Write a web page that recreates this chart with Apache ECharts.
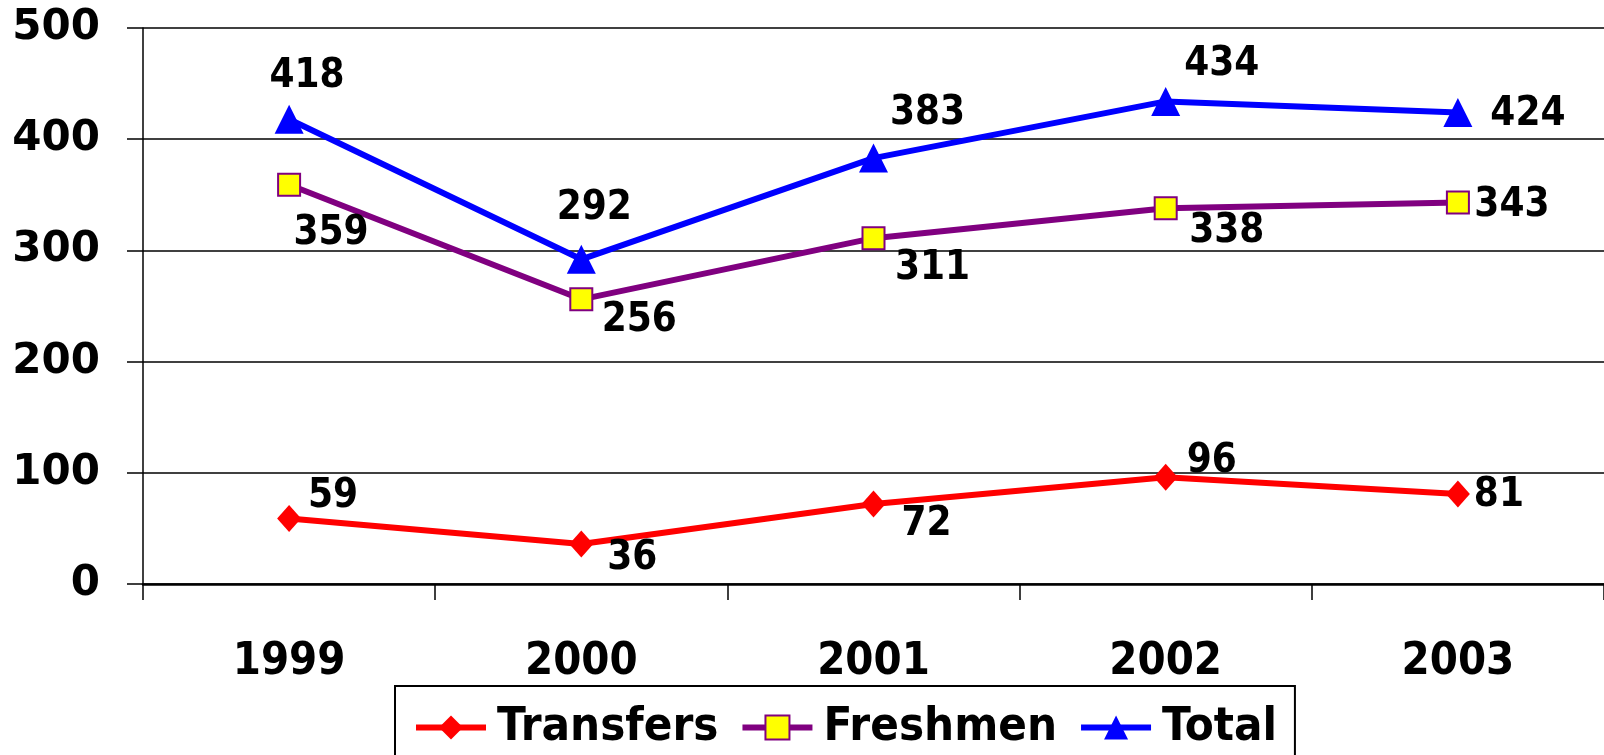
<!DOCTYPE html>
<html>
<head>
<meta charset="utf-8">
<script src="https://cdn.jsdelivr.net/npm/echarts@6/dist/echarts.min.js"></script>
<style>
  html, body { margin: 0; padding: 0; background: #fff; }
  #chart { width: 1604px; height: 755px; }
</style>
</head>
<body>
<div id="chart"></div>
<script>
const years = ["1999", "2000", "2001", "2002", "2003"];
const transfers = [59, 36, 72, 96, 81];
const freshmen = [359, 256, 311, 338, 343];
const total = [418, 292, 383, 434, 424];
const yTicks = { min: 0, max: 500, step: 100 };

// where each value label sits, in px from its point
const transfersLabelOffset = [[44, -22], [51, 15], [53, 21], [46, -16], [41, 2]];
const freshmenLabelOffset = [[42, 49], [58, 21], [59, 30], [61, 23], [54, 3]];
const totalLabelOffset = [[18, -43], [13, -51], [54, -44], [56, -37], [70, 2]];

const labelFont = {
  fontFamily: "DejaVu Sans Condensed",
  fontWeight: "bold",
  fontSize: 40,
  lineHeight: 40,
  color: "#000"
};

function withLabels(values, offsets) {
  return values.map((v, i) => ({
    value: v,
    label: { offset: offsets[i] }
  }));
}

function lineSeries(name, values, offsets, color, symbol, size, itemStyle) {
  return {
    name: name,
    type: "line",
    symbol: symbol,
    symbolSize: size,
    animation: false,
    lineStyle: { color: color, width: 6 },
    itemStyle: itemStyle,
    label: Object.assign({
      show: true,
      position: "inside",
      align: "center",
      verticalAlign: "middle"
    }, labelFont),
    data: withLabels(values, offsets)
  };
}

const myChart = echarts.init(document.getElementById("chart"));
myChart.setOption({
  animation: false,
  grid: { left: 143, right: -2, top: 28, bottom: 171, containLabel: false },
  legend: {
    left: 395,
    top: 686,
    padding: [18, 18, 40, 18],
    borderColor: "#000",
    borderWidth: 2,
    itemWidth: 70,
    itemHeight: 30,
    itemGap: 21,
    lineStyle: { width: 6 },
    textStyle: {
      fontFamily: "DejaVu Sans Condensed",
      fontWeight: "bold",
      fontSize: 47,
      color: "#000",
      padding: [0, 0, 0, 6]
    },
    data: ["Transfers", "Freshmen", "Total"]
  },
  xAxis: {
    type: "category",
    data: years,
    boundaryGap: true,
    axisLine: { lineStyle: { color: "#000", width: 2.5 } },
    axisTick: { show: true, length: 16, lineStyle: { color: "#000", width: 1.5 } },
    axisLabel: {
      margin: 56,
      fontFamily: "DejaVu Sans Condensed",
      fontWeight: "bold",
      fontSize: 45,
      lineHeight: 45,
      color: "#000"
    },
    splitLine: { show: false }
  },
  yAxis: {
    type: "value",
    min: yTicks.min,
    max: yTicks.max,
    interval: yTicks.step,
    axisLine: { show: true, lineStyle: { color: "#000", width: 1.5 } },
    axisTick: { show: true, length: 16, lineStyle: { color: "#000", width: 1.5 } },
    axisLabel: {
      margin: 43,
      fontFamily: "DejaVu Sans",
      fontWeight: "bold",
      fontSize: 42,
      color: "#000"
    },
    splitLine: { show: true, lineStyle: { color: "#000", width: 1.5 } }
  },
  series: [
    lineSeries("Transfers", transfers, transfersLabelOffset, "#FF0000", "diamond", [24, 27],
      { color: "#FF0000" }),
    lineSeries("Freshmen", freshmen, freshmenLabelOffset, "#800080", "rect", [22, 22],
      { color: "#FFFF00", borderColor: "#800080", borderWidth: 2 }),
    lineSeries("Total", total, totalLabelOffset, "#0000FF", "triangle", [29, 29],
      { color: "#0000FF" })
  ]
});
</script>
</body>
</html>
